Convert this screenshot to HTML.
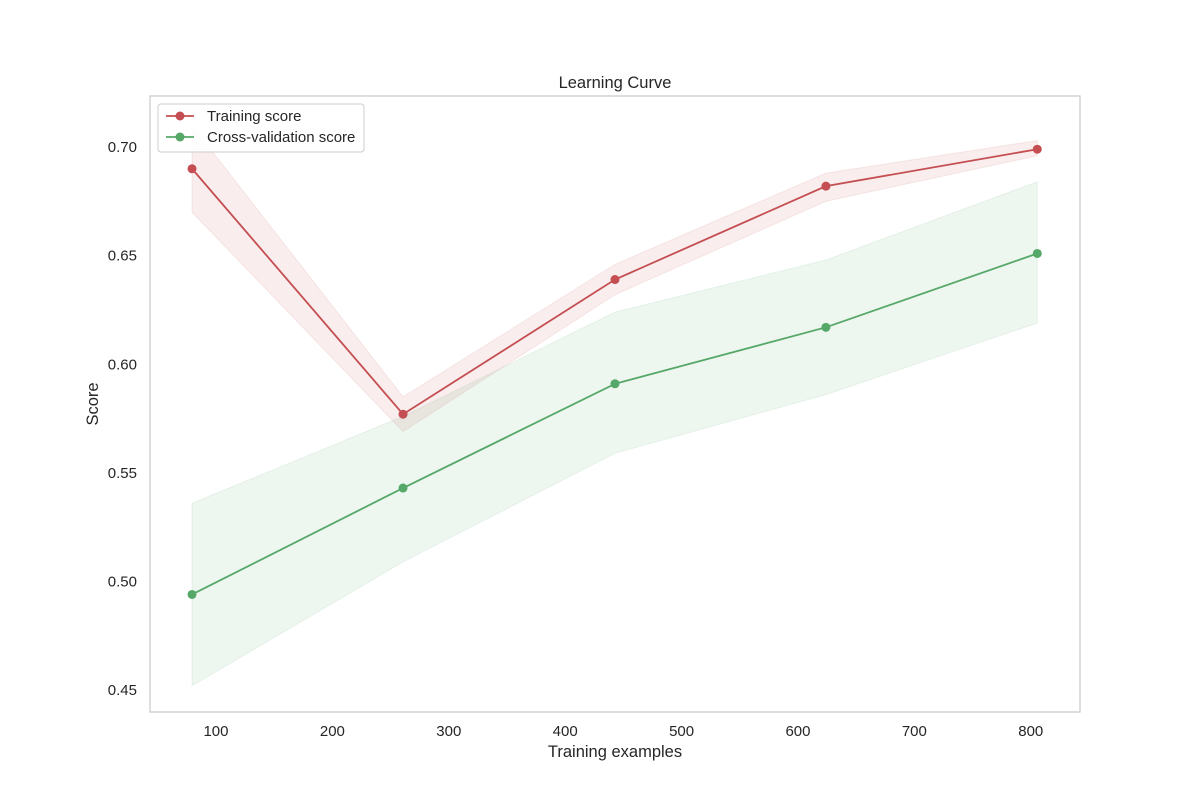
<!DOCTYPE html>
<html><head><meta charset="utf-8"><style>
body{margin:0;background:#fff;font-family:"Liberation Sans","DejaVu Sans",sans-serif;}
</style></head><body>
<svg id="chart" width="1200" height="800" xmlns="http://www.w3.org/2000/svg" font-family="Liberation Sans, DejaVu Sans, sans-serif">
<rect width="1200" height="800" fill="#fff"/>
<text x="615" y="88" font-size="16.5" text-anchor="middle" fill="#262626">Learning Curve</text>
<g id="bands"></g><g id="lines"></g><g id="xticks"></g><g id="yticks"></g>
<rect x="150" y="96" width="930" height="616" fill="none" stroke="#cccccc" stroke-width="1.3"/>
<text x="615" y="757" font-size="16.5" text-anchor="middle" fill="#262626">Training examples</text>
<text transform="translate(98,404) rotate(-90)" font-size="16.5" text-anchor="middle" fill="#262626">Score</text>
<g>
<rect x="158" y="104" width="206" height="48" rx="3" fill="#fff" fill-opacity="0.85" stroke="#cccccc"/>
<line x1="166" y1="116" x2="194" y2="116" stroke="#c44e52" stroke-width="1.8"/><circle cx="180" cy="116" r="4.5" fill="#c44e52"/>
<text x="207" y="121" font-size="15" fill="#262626">Training score</text>
<line x1="166" y1="137" x2="194" y2="137" stroke="#55a868" stroke-width="1.8"/><circle cx="180" cy="137" r="4.5" fill="#55a868"/>
<text x="207" y="142" font-size="15" fill="#262626">Cross-validation score</text>
</g>
</svg>
<script>
const sizes=[79.4,260.7,442.8,624,805.6];
const trainMean=[0.690,0.577,0.639,0.682,0.699];
const trainUpper=[0.710,0.585,0.646,0.688,0.703];
const trainLower=[0.670,0.569,0.632,0.675,0.696];
const cvMean=[0.494,0.543,0.591,0.617,0.651];
const cvUpper=[0.536,0.576,0.624,0.648,0.684];
const cvLower=[0.452,0.509,0.559,0.586,0.619];
const xTicks=[100,200,300,400,500,600,700,800];
const yTicks=[0.45,0.50,0.55,0.60,0.65,0.70];
const X0=150,X1=1080,Y0=96,Y1=712,xmin=43.3,xmax=842.3,ymin=0.4399,ymax=0.7235;
const sx=v=>X0+(v-xmin)/(xmax-xmin)*(X1-X0);
const sy=v=>Y1-(v-ymin)/(ymax-ymin)*(Y1-Y0);
const NS="http://www.w3.org/2000/svg";
function mk(t,a,p){const e=document.createElementNS(NS,t);for(const k in a)e.setAttribute(k,a[k]);p.appendChild(e);return e;}
const bands=document.getElementById('bands'),lines=document.getElementById('lines');
function band(up,lo,col,name){
 const pts=sizes.map((s,i)=>sx(s)+','+sy(up[i])).concat(sizes.map((s,i)=>sx(s)+','+sy(lo[i])).reverse());
 const p=mk('polygon',{points:pts.join(' '),fill:col,'fill-opacity':0.1,stroke:col,'stroke-opacity':0.1},bands);
 
 
}
band(trainUpper,trainLower,'#c44e52','training-band');
band(cvUpper,cvLower,'#55a868','cv-band');
function series(m,col,name){
 const l=mk('polyline',{points:sizes.map((s,i)=>sx(s)+','+sy(m[i])).join(' '),fill:'none',stroke:col,'stroke-width':1.8},lines);
 
 
 sizes.forEach((s,i)=>{const c=mk('circle',{cx:sx(s),cy:sy(m[i]),r:4.5,fill:col},lines);
  
  });
}
series(trainMean,'#c44e52','training');
series(cvMean,'#55a868','cv');
const xt=document.getElementById('xticks'),yt=document.getElementById('yticks');
xTicks.forEach(v=>{const t=mk('text',{x:sx(v),y:736,'font-size':15,'text-anchor':'middle',fill:'#262626'},xt);t.textContent=v;
 
 });
yTicks.forEach(v=>{const t=mk('text',{x:137,y:sy(v)+5,'font-size':15,'text-anchor':'end',fill:'#262626'},yt);t.textContent=v.toFixed(2);
 
 });
</script>
</body></html>
